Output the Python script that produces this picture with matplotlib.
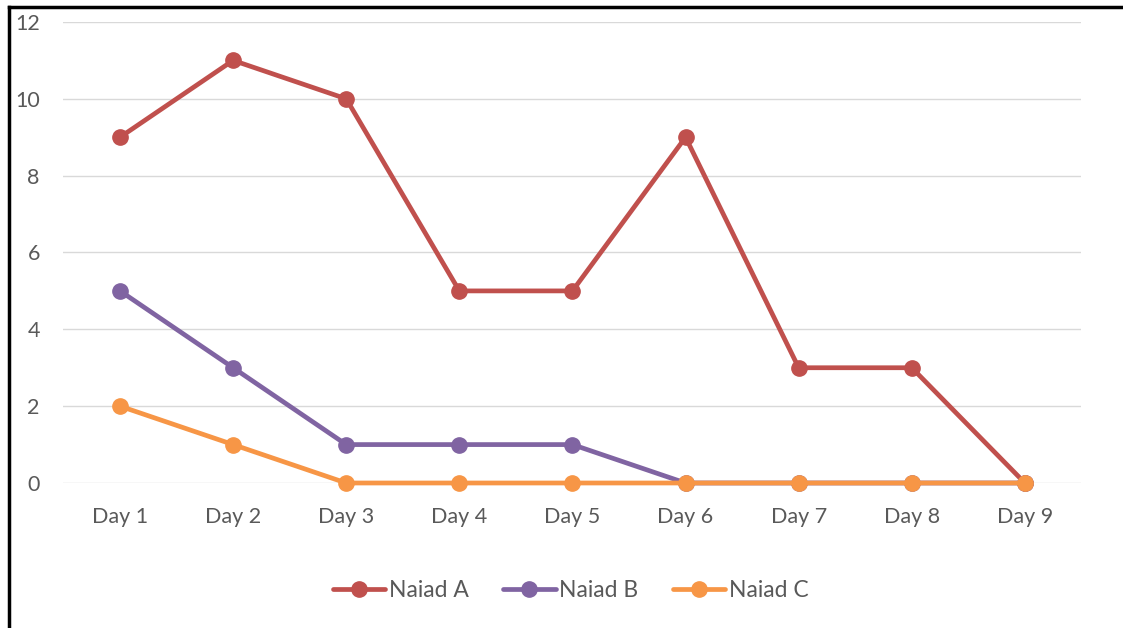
import matplotlib.pyplot as plt
from matplotlib.lines import Line2D

days = ['Day 1', 'Day 2', 'Day 3', 'Day 4', 'Day 5', 'Day 6', 'Day 7', 'Day 8', 'Day 9']
naiad_a = [9, 11, 10, 5, 5, 9, 3, 3, 0]
naiad_b = [5, 3, 1, 1, 1, 0, 0, 0, 0]
naiad_c = [2, 1, 0, 0, 0, 0, 0, 0, 0]

plt.rcParams['font.family'] = ['Lato', 'DejaVu Sans']
grey = '#595959'

fig = plt.figure(figsize=(11.23, 6.28), dpi=100)
ax = fig.add_axes([0.0565, 0.2309, 0.9065, 0.7341])

x = range(len(days))
series = [('Naiad A', naiad_a, '#C0504D'),
          ('Naiad B', naiad_b, '#8064A2'),
          ('Naiad C', naiad_c, '#F79646')]
for name, vals, col in series:
    ax.plot(x, vals, color=col, lw=3.4, marker='o', markersize=11, label=name,
            solid_capstyle='round', zorder=3, clip_on=False)

ax.set_xlim(-0.5, len(days) - 0.5)
ax.set_ylim(0, 12)
ax.set_yticks(range(0, 13, 2))
ax.set_xticks(list(x))
ax.set_xticklabels(days)
ax.grid(axis='y', color='#D9D9D9', lw=1)
ax.set_axisbelow(True)
for s in ax.spines.values():
    s.set_visible(False)
ax.tick_params(length=0, labelsize=15.5, colors=grey)
ax.tick_params(axis='x', pad=17)
ax.tick_params(axis='y', pad=17)

leg = fig.legend(loc='center', bbox_to_anchor=(0.508, 0.059), ncol=3, frameon=False,
                 fontsize=16.5, handlelength=2.3, handletextpad=0.15, columnspacing=1.5)
for t in leg.get_texts():
    t.set_color(grey)

# screenshot border (left and top)
fig.add_artist(Line2D([9 / 1123, 9 / 1123], [0, 1 - 7 / 628], color='black', lw=2.5,
                      transform=fig.transFigure))
fig.add_artist(Line2D([9 / 1123, 1], [1 - 7 / 628, 1 - 7 / 628], color='black', lw=2.5,
                      transform=fig.transFigure))

fig.savefig('out.png', dpi=100)
